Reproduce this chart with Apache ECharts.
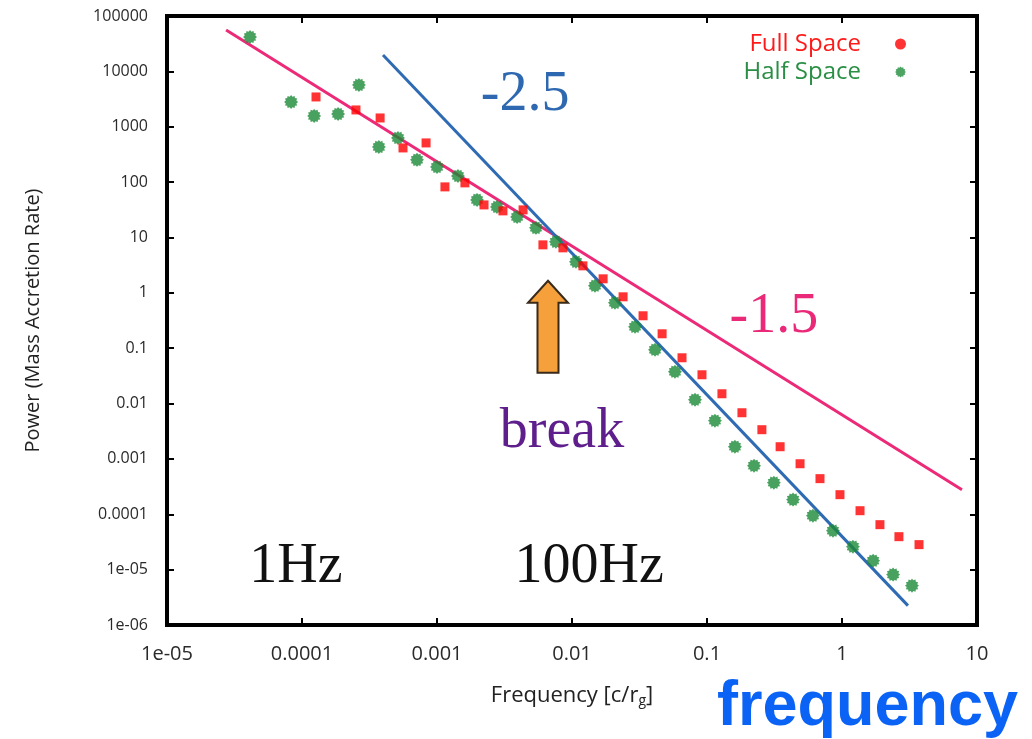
<!DOCTYPE html>
<html><head><meta charset="utf-8">
<script src="https://cdn.jsdelivr.net/npm/echarts@6/dist/echarts.min.js"></script>
<style>html,body{margin:0;padding:0;background:#fff}#c{width:1032px;height:739px}</style>
</head><body><div id="c"></div>
<script>
// ---- data ----
const xTickLabels = ['1e-05','0.0001','0.001','0.01','0.1','1','10'];
const yTickLabels = ['1e-06','1e-05','0.0001','0.001','0.01','0.1','1','10','100','1000','10000','100000'];

const fullFreq = [1.27e-4,2.51e-4,3.79e-4,5.60e-4,8.30e-4,1.145e-3,1.61e-3,2.23e-3,3.08e-3,4.34e-3,6.09e-3,8.57e-3,1.205e-2,1.70e-2,2.39e-2,3.36e-2,4.65e-2,6.53e-2,9.18e-2,0.129,0.1815,0.255,0.348,0.489,0.687,0.966,1.36,1.91,2.64,3.72];
const fullPower = [3450,2010,1440,414,510,81.9,96.8,38.7,30.2,31.5,7.35,6.49,3.07,1.79,0.847,0.385,0.182,0.0671,0.0331,0.01503,6.82e-3,3.37e-3,1.66e-3,8.18e-4,4.40e-4,2.26e-4,1.16e-4,6.49e-5,3.94e-5,2.83e-5];

const halfFreq = [4.12e-5,8.30e-5,1.23e-4,1.85e-4,2.64e-4,3.71e-4,5.14e-4,7.11e-4,1.0e-3,1.43e-3,1.98e-3,2.78e-3,3.92e-3,5.41e-3,7.60e-3,1.07e-2,1.48e-2,2.08e-2,2.93e-2,4.12e-2,5.79e-2,8.15e-2,0.1145,0.161,0.223,0.313,0.434,0.609,0.857,1.205,1.70,2.39,3.30];
const halfPower = [41800,2800,1570,1700,5690,432,628,252,188,129,47.7,35.6,23.5,14.9,8.34,3.63,1.34,0.659,0.243,0.0935,0.0375,0.01172,4.90e-3,1.66e-3,7.53e-4,3.72e-4,1.84e-4,9.44e-5,5.06e-5,2.60e-5,1.45e-5,8.13e-6,5.14e-6];

const fitLowFreq = [2.74e-5, 7.74];     // slope -1.5
const fitLowPower = [55900, 2.78e-4];
const fitHighFreq = [3.98e-4, 3.08];    // slope -2.5
const fitHighPower = [19800, 2.24e-6];

const annotations = [
  {text:'-2.5', x:4.49e-3, y:3750, color:'#2d68b0'},
  {text:'-1.5', x:0.313, y:0.354, color:'#ea2a78'},
  {text:'break', x:8.43e-3, y:2.97e-3, color:'#5e1e8c'},
  {text:'1Hz', x:9.03e-5, y:1.09e-5, color:'#111'},
  {text:'100Hz', x:1.34e-2, y:1.09e-5, color:'#111'}
];
const arrowAt = {x:6.64e-3, tipY:1.65, baseY:0.036};

// ---- chart ----
function starPath(n, rIn){
  let d='';
  for(let i=0;i<2*n;i++){
    const r = i%2===0 ? 1 : rIn;
    const a = Math.PI*i/n;
    const px = (50+50*r*Math.cos(a)).toFixed(2), py=(50+50*r*Math.sin(a)).toFixed(2);
    d += (i===0?'M':'L')+px+' '+py+' ';
  }
  return 'path://'+d+'Z';
}
const star = starPath(12, 0.78);
const chart = echarts.init(document.getElementById('c'));
const pair = (xs, ys) => xs.map((x,i)=>[x, ys[i]]);
const tickStyle = {show:true, inside:true, length:7, lineStyle:{color:'#000', width:2}};
const axisLine = {show:true, lineStyle:{color:'#000', width:4}};
const xBase = {type:'log', logBase:10, min:1e-5, max:10, interval:1, splitLine:{show:false}, axisLine, axisTick:tickStyle};
const yBase = {type:'log', logBase:10, min:1e-6, max:1e5, interval:1, splitLine:{show:false}, axisLine, axisTick:tickStyle};

chart.setOption({
  animation:false,
  backgroundColor:'#fff',
  grid:{left:167, right:55, top:16, bottom:114, show:true, borderColor:'#000', borderWidth:4},
  xAxis:[
    Object.assign({}, xBase, {position:'bottom',
      axisLabel:{margin:19, fontFamily:'Open Sans', fontSize:20, color:'#2a2a2a', formatter:v=>xTickLabels[Math.round(Math.log10(v))+5]},
      name:'{a|Frequency [c/r}{s|g}{a|]}', nameLocation:'middle', nameGap:59,
      nameTextStyle:{rich:{a:{fontFamily:'Open Sans', fontSize:22, color:'#222'}, s:{fontFamily:'Open Sans', fontSize:14, color:'#222', verticalAlign:'bottom', padding:[10,0,0,0]}}}}),
    Object.assign({}, xBase, {position:'top', axisLabel:{show:false}})
  ],
  yAxis:[
    Object.assign({}, yBase, {position:'left',
      axisLabel:{margin:19, fontFamily:'Open Sans', fontSize:16, color:'#2a2a2a', formatter:v=>yTickLabels[Math.round(Math.log10(v))+6]},
      name:'Power (Mass Accretion Rate)', nameLocation:'middle', nameGap:124,
      nameTextStyle:{fontFamily:'Open Sans', fontSize:20, color:'#222'}}),
    Object.assign({}, yBase, {position:'right', axisLabel:{show:false}})
  ],
  legend:{
    orient:'vertical', right:121, top:27, align:'right', itemGap:4, itemWidth:11, itemHeight:11,
    textStyle:{fontFamily:'Open Sans', fontSize:24, padding:[0,29,0,0]},
    data:[
      {name:'Full Space', icon:'circle', itemStyle:{color:'#ff0000'}, textStyle:{color:'#ff1a1a'}},
      {name:'Half Space', icon:star, itemStyle:{color:'#1f8c3b'}, textStyle:{color:'#2a8f45'}}
    ]
  },
  series:[
    {name:'fit -1.5', type:'line', data:pair(fitLowFreq, fitLowPower), symbol:'none', lineStyle:{color:'#ec2a78', width:3}, z:1},
    {name:'fit -2.5', type:'line', data:pair(fitHighFreq, fitHighPower), symbol:'none', lineStyle:{color:'#2f6bb3', width:3}, z:1},
    {name:'Full Space', type:'scatter', data:pair(fullFreq, fullPower), symbol:'rect', symbolSize:9, itemStyle:{color:'#ff0000'}, z:3},
    {name:'Half Space', type:'scatter', data:pair(halfFreq, halfPower), symbol:star, symbolSize:14, itemStyle:{color:'#1a8a36'}, z:2}
  ]
});

function drawAnnotations(){
  const els = [];
  annotations.forEach(a=>{
    const p = chart.convertToPixel({xAxisIndex:0, yAxisIndex:0}, [a.x, a.y]);
    els.push({type:'text', x:p[0], y:p[1], style:{text:a.text, fill:a.color, font:'56px "Liberation Serif"', textAlign:'center', textVerticalAlign:'middle'}, z:10});
  });
  const tip = chart.convertToPixel({xAxisIndex:0, yAxisIndex:0}, [arrowAt.x, arrowAt.tipY]);
  const base = chart.convertToPixel({xAxisIndex:0, yAxisIndex:0}, [arrowAt.x, arrowAt.baseY]);
  const cx = tip[0], ty = tip[1], by = base[1], hy = ty + 22;
  els.push({type:'polygon', shape:{points:[[cx,ty],[cx+20,hy],[cx+10.5,hy],[cx+10.5,by],[cx-10.5,by],[cx-10.5,hy],[cx-20,hy]]},
    style:{fill:'#f5a03a', stroke:'#3a2a1a', lineWidth:2}, z:10});
  els.push({type:'text', right:14, bottom:0, style:{text:'frequency', fill:'#0b63f6', font:'bold 63px "Liberation Sans"'}, z:10});
  chart.setOption({graphic:els});
}
drawAnnotations();
</script></body></html>
